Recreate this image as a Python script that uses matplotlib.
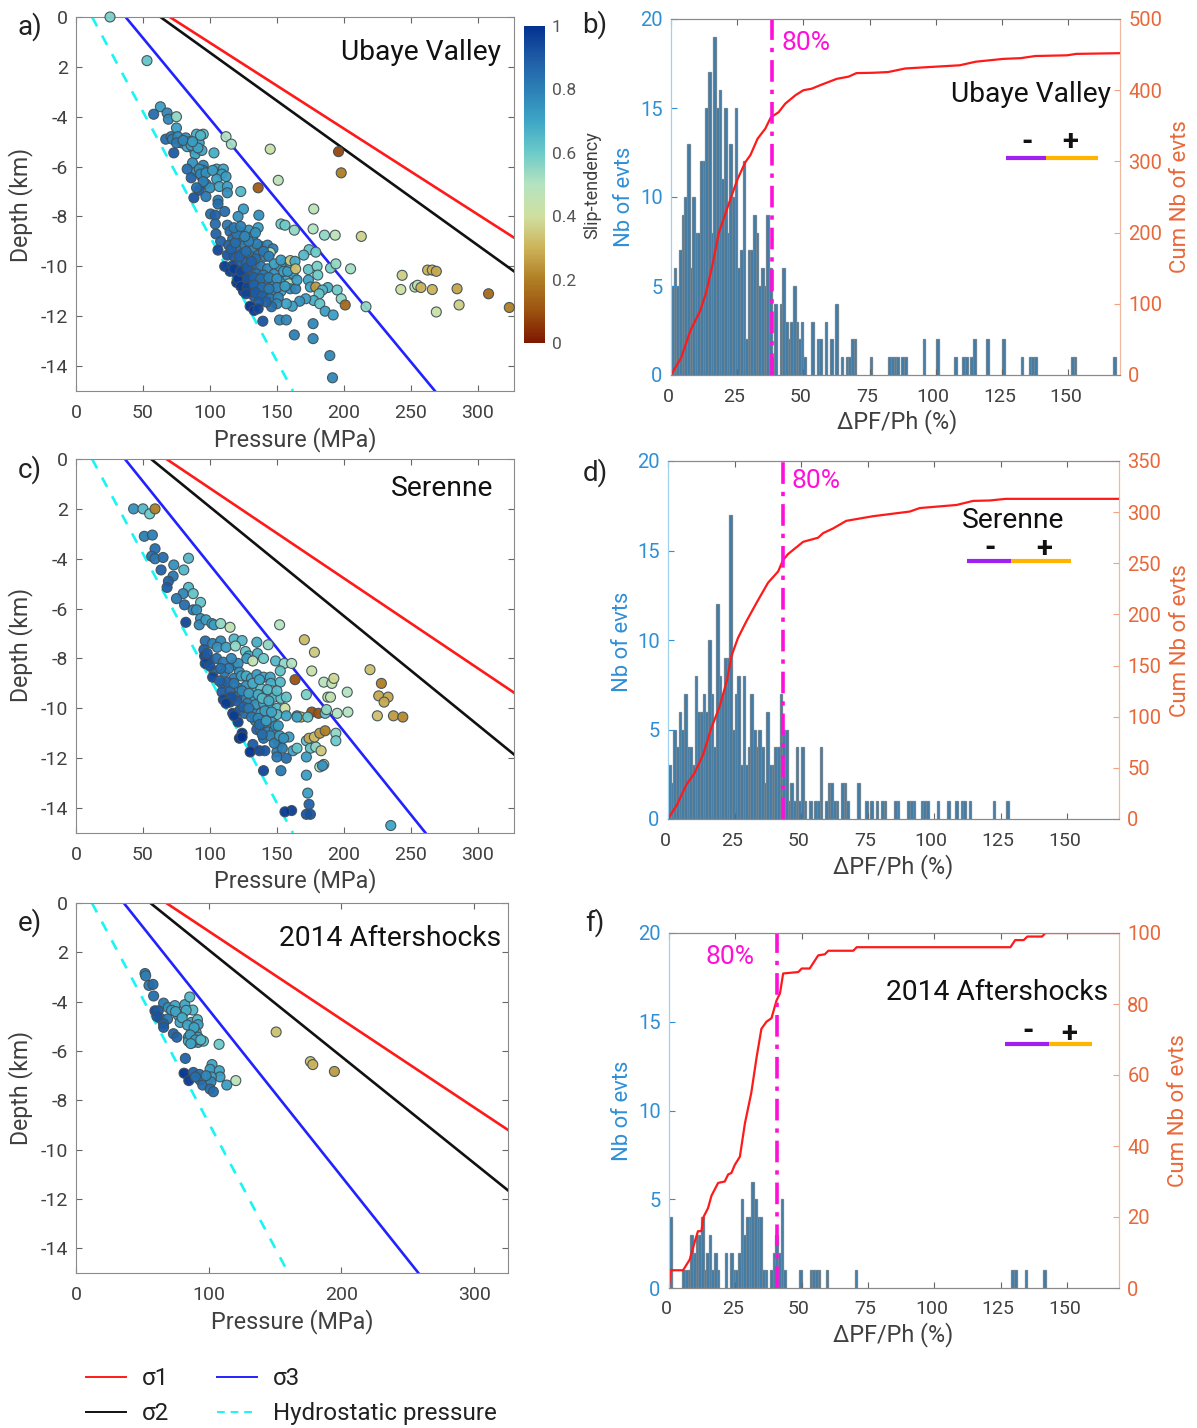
import matplotlib
matplotlib.use("Agg")
import matplotlib.pyplot as plt
from matplotlib.colors import LinearSegmentedColormap
from matplotlib.lines import Line2D
from matplotlib.cm import ScalarMappable
from matplotlib.colors import Normalize
from matplotlib.transforms import ScaledTranslation

plt.rcParams["font.family"] = ["Roboto", "DejaVu Sans"]

W, H = 1197, 1428

# pressure (MPa), depth (km), slip tendency
EVENTS_A = [
    (25.4, 0, .58), (53, -1.75, .62), (63, -3.6, .72), (58, -3.9, .85), (68, -3.85, .78), (69, -4.1, .78),
    (75, -4, .55), (75, -4.45, .72), (67, -4.9, .85), (71, -4.8, .8), (72, -4.9, .8), (76, -4.8, .78),
    (79, -5.05, .8), (82, -4.85, .75), (85, -5, .72), (83, -5.2, .7), (88, -5.3, .72), (90, -4.7, .68),
    (95, -4.7, .62), (92, -5.05, .72), (89, -5.5, .7), (94, -5.35, .7), (73, -5.45, .9), (103, -5.45, .68),
    (75, -5.05, .82), (80, -4.95, .78), (86, -5.15, .72), (91, -5.25, .7), (87, -5.0, .72), (93, -4.75, .66),
    (87, -5.85, .75), (83, -6.1, .85), (95, -5.95, .78), (95, -6.15, .8), (90, -6.2, .75), (86, -6.45, .88),
    (94, -6.4, .8), (105, -6.1, .7), (110, -6.1, .7), (109, -6.3, .72), (105, -6.5, .72), (112, -6.4, .72),
    (97, -6.7, .8), (92, -6.95, .9), (100, -6.85, .75), (107, -6.8, .7), (113, -6.8, .72), (113, -7.05, .75),
    (88, -7.25, .92), (97, -7.2, .82), (106, -7.35, .8), (106, -7.5, .85), (123, -7, .65), (136, -6.85, .12),
    (112, -4.8, .5), (116, -5.1, .52), (145, -5.3, .42), (151, -6.55, .47), (196, -5.4, .08), (198, -6.25, .2),
    (92, -6.1, .76), (93, -6.3, .78), (97, -6.25, .76), (102, -6.15, .72), (95, -6.6, .8), (90, -6.85, .85),
    (125, -7.7, .72), (121, -8, .75), (136.5, -7.95, .75), (177.5, -7.7, .47), (153, -8.3, .6), (156, -8.35, .6),
    (163, -8.55, .55), (177, -8.5, .5), (185.5, -8.75, .55), (193.5, -8.75, .47), (213, -8.8, .37),
    (100.5, -7.9, .85), (111, -7.8, .85), (104, -7.95, .88), (104, -8.3, .85), (113, -8.35, .82), (104.5, -8.7, .88),
    (108, -9, .88), (106, -9.35, .95), (115, -8.6, .85), (120, -8.55, .8), (124, -8.65, .8), (129, -8.55, .75),
    (136, -8.45, .72), (132, -8.8, .75), (117, -8.9, .85), (123, -8.95, .82), (114, -9.15, .88), (120, -9.3, .85),
    (126, -9.15, .8), (132, -9.3, .8), (138, -9.2, .8), (143, -9.15, .78), (147, -9.3, .8), (145, -9.45, .5),
    (113, -9.55, .92), (118, -9.6, .9), (124, -9.5, .85), (130, -9.6, .82), (136, -9.55, .82), (141, -9.6, .8),
    (111, -10, .97), (115, -10.2, .97), (117, -9.97, .95), (122, -9.95, .9), (127, -9.85, .88), (133, -9.9, .85),
    (138, -10, .82), (143, -10.1, .78), (148, -10.3, .75), (152, -10, .72), (156, -9.85, .72), (160, -10.05, .7),
    (120, -10.65, 1.0), (125, -11, .98), (126.5, -10.7, .95), (120, -10.3, .95), (125, -10.4, .92), (130, -10.2, .88),
    (135, -10.3, .85), (140, -10.35, .82), (131, -10.6, .9), (136, -10.7, .88), (142, -10.65, .82), (147, -10.7, .8),
    (153, -10.6, .72), (158, -10.4, .7), (162, -10.3, .72), (130, -11, .92), (136, -10.95, .88), (141, -11.05, .85),
    (147, -11.1, .8), (153, -11, .72), (159, -10.7, .45), (160, -10.9, .75), (164, -10.9, .78), (133, -11.2, .9),
    (118, -10.1, .97), (121, -10.5, .98), (123, -10.2, .95), (128, -10.05, .9), (128, -10.5, .92), (133, -10.45, .88),
    (138, -10.5, .85), (144, -10.45, .8), (150, -10.5, .75), (155, -10.2, .72), (150, -10.85, .78), (156, -10.8, .72),
    (123, -10.8, .98), (128, -10.85, .95), (133, -10.75, .88), (139, -10.85, .85), (144, -10.9, .82), (127, -11.1, .95),
    (134, -11.05, .9), (139, -11.2, .88), (145, -11.3, .82), (151, -11.25, .78), (116, -9.3, .88), (119, -9.05, .85),
    (122, -9.6, .88), (127, -9.4, .85), (135, -9.1, .8), (129, -9.0, .8), (140, -9.4, .82), (144, -9.6, .8),
    (148, -9.9, .72), (153, -9.75, .72), (158, -10.2, .72), (134, -9.7, .85), (131, -9.8, .88), (120, -8.7, .82),
    (126, -8.8, .78), (118, -8.45, .82), (123, -8.4, .8), (134, -8.65, .75), (160, -9.85, .68), (165, -10.55, .72),
    (160, -9.77, .35), (174, -9.33, .62), (179, -9.43, .6), (170, -9.55, .65), (163.5, -9.8, .68), (164, -10.1, .33),
    (173.5, -10.13, .62), (180, -10, .58), (180.5, -10.35, .6), (190, -10.07, .58), (194, -9.9, .55), (205, -10.1, .52),
    (173.5, -10.55, .7), (175, -10.83, .7), (179, -10.83, .25), (188, -10.85, .68), (184, -10.95, .65), (181.5, -11.1, .62),
    (195, -10.95, .6), (198, -11.3, .55), (201, -11.55, .15), (216.5, -11.62, .55), (177.5, -11.37, .68), (182, -11.5, .62),
    (171.5, -11.3, .72), (167, -11.4, .75), (161.5, -11.6, .72), (186, -11.8, .72), (192, -11.95, .72), (157, -11.5, .7),
    (150, -11.5, .78), (146, -11.62, .85), (142, -11.43, .88), (136.5, -11.43, .9), (130, -11.6, 1), (133, -11.77, .98),
    (136, -11.7, .95), (139.5, -12.2, .92), (152, -12.15, .78), (157, -12.15, .78), (177, -12.3, .78), (163, -12.75, .8),
    (177, -12.9, .78), (189.5, -13.58, .78), (191.5, -14.47, .78),
    (243.5, -10.36, .36), (242.5, -10.93, .4), (253, -10.83, .42), (255, -10.76, .45), (257.5, -10.85, .3), (262.5, -10.15, .3),
    (266, -10.15, .3), (269, -10.2, .28), (266, -10.93, .3), (269, -11.83, .42), (284.5, -10.9, .27), (286, -11.55, .36),
    (308, -11.1, .15), (323.5, -11.65, .2),
]

EVENTS_C = [
    (43, -2, .75), (50, -2, .65), (55, -2.2, .6), (59, -2, .2), (51, -3.1, .8), (57, -3.05, .8), (59, -3.6, .85),
    (56.5, -3.9, .85), (59, -4, .82), (65, -3.95, .85), (84, -3.98, .65), (73, -4.25, .75), (80.5, -4.45, .65),
    (63.5, -4.45, .88), (72.5, -4.7, .82), (69, -4.9, .88), (68, -5.15, .9), (84, -5.15, .65), (80, -5.4, .78),
    (87.5, -5.4, .62), (75, -5.6, .82), (81, -5.85, .85), (93, -5.75, .62), (87.5, -6.05, .8), (90, -6.05, .75),
    (82, -6.55, .95), (93, -6.4, .75), (92, -6.65, .78), (97, -6.45, .72), (101.5, -6.6, .72), (103, -6.65, .72),
    (108, -6.6, .55), (115, -6.75, .45), (152, -6.65, .5), (96.5, -7.3, .85), (102, -7.4, .8), (108, -7.3, .78),
    (105.5, -7.55, .75), (112, -7.55, .72), (118, -7.22, .65), (124, -7.28, .65), (119, -7.5, .55), (135, -7.35, .68),
    (143.5, -7.45, .55), (170.5, -7.25, .32), (178, -7.75, .35), (126.5, -7.72, .62), (129, -7.9, .68), (127.5, -8, .72),
    (135.5, -7.8, .68), (140, -8, .6), (132, -8.1, .45), (149, -8.1, .65), (155.5, -8.2, .55), (161, -8.2, .5),
    (152.5, -8.5, .62), (176, -8.5, .42), (95.5, -7.65, .9), (96, -7.9, .95), (99.5, -8.05, .95), (96.5, -8.2, .95),
    (105, -8, .85), (110, -8.15, .82), (118, -8.25, .78), (121, -8.2, .75), (103, -8.5, .88), (102, -8.75, .95),
    (111, -8.55, .82), (122, -8.55, .75), (109, -9, .88), (118, -8.8, .8), (123.5, -8.7, .72), (127, -8.7, .68),
    (131, -8.8, .7), (135, -8.65, .72), (140, -8.75, .7), (145, -8.75, .7), (145.5, -9, .68), (152.5, -8.95, .65),
    (163.5, -8.85, .1), (185, -8.95, .48), (191, -9, .45), (192.5, -8.8, .38), (202.5, -9.35, .5), (219.5, -8.45, .33),
    (228, -9, .2), (109, -9.35, .9), (115, -9.3, .88), (122, -9.2, .8), (127, -9.1, .75), (133, -9.25, .68),
    (138, -9.2, .62), (146, -9.3, .4), (148, -9.55, .65), (153, -9.6, .62), (157, -9.55, .62), (140, -9.45, .68),
    (132, -9.6, .72), (126, -9.55, .8), (120, -9.55, .85), (110, -9.65, .95), (115, -9.75, .95), (120, -9.7, .9),
    (128, -9.8, .8), (134, -9.85, .75), (140, -9.8, .7), (145, -9.95, .68), (150, -10, .65), (156, -10, .4),
    (117, -10.2, .97), (122, -10.1, .92), (126, -10.2, .85), (132, -10.2, .78), (138, -10.2, .72), (143, -10.25, .7),
    (150, -10.25, .65), (157, -10.3, .7), (165, -10.3, .72), (121, -10.55, .97), (134, -10.5, .82), (140, -10.6, .75),
    (146, -10.55, .72), (135, -10.85, .88), (138, -10.9, .82), (143, -10.95, .8), (148, -10.9, .75), (124, -11, 1),
    (122, -11.2, 1), (132, -11.45, .9), (140, -11.2, .85), (150, -11.2, .8), (152, -11.4, .78), (159, -11.15, .72),
    (130, -11.75, 1), (137, -11.7, .95), (141, -11.7, .92), (150, -11.75, .8), (154, -11.6, .8), (150, -11.95, .82),
    (157, -12, .85), (162, -11.7, .7), (165, -11.6, .62), (172, -11.3, .62), (175, -11.6, .62), (172, -11.95, .72),
    (179, -11.55, .55), (183, -11.7, .35), (174, -11.2, .28), (178, -11.15, .32), (182, -11, .25), (186, -10.9, .2),
    (194, -11, .55), (194, -11.3, .6), (140, -12.5, .95), (153, -12.5, .82), (172, -12.68, .72), (173, -13.4, .72),
    (174, -13.85, .88), (172, -14.25, .92), (175, -14.25, .92), (161, -14.1, .97), (156, -14.15, .98), (235, -14.7, .7),
    (182, -12.35, .5), (185, -12.25, .45), (184, -12.3, .75), (176, -10.15, .1), (181, -10.2, .1), (186, -10.2, .62),
    (168, -10.35, .3), (165, -10.35, .7), (173, -10.35, .62), (187, -10.05, .55), (195, -10.2, .5), (203, -10.15, .5),
    (188, -9.55, .45), (190, -9.55, .45), (172, -9.45, .58), (226, -9.5, .28), (233, -9.55, .28), (230, -9.75, .28),
    (225, -10.3, .33), (237, -10.3, .25), (244, -10.35, .22),
    (113, -8.95, .88), (116, -9.55, .92), (112, -9.8, .97), (118, -10.3, .97), (125, -9.95, .88), (129, -10.0, .82),
    (131, -10.35, .82), (136, -10.4, .78), (141, -10.1, .72), (146, -10.15, .7), (137, -10.65, .85), (142, -10.5, .72),
    (149, -10.7, .75), (145, -11.1, .78), (148, -11.4, .8), (152, -11.1, .72), (155, -11.2, .75), (139, -11.05, .85),
    (124, -11.15, 1), (124, -9.3, .78), (129, -9.4, .72), (136, -9.45, .68), (143, -9.25, .65), (150, -9.3, .65),
    (132, -9.0, .68), (139, -9.6, .65), (144, -9.7, .68), (137, -8.85, .7), (114, -8.4, .8), (116, -8.0, .78),
    (100, -8.3, .92), (108, -8.4, .85), (118, -9.0, .82), (98, -7.8, .9), (107, -8.9, .88), (151, -10.7, .72),
]

EVENTS_E = [
    (52, -2.86, .82), (52.5, -2.95, .8), (55, -3.34, .82), (58, -3.3, .85), (58.5, -3.77, .85), (66, -4.06, .82),
    (69.5, -4.24, .75), (74.5, -4.16, .7), (72, -4.35, .72), (82, -4.12, .7), (85.7, -3.81, .65), (88, -4.34, .65),
    (80.5, -4.48, .65), (77, -4.55, .7), (59.5, -4.37, .95), (62, -4.37, .9), (63.3, -4.67, .85), (69, -4.7, .82),
    (66, -4.9, .88), (66, -5.04, .9), (78.4, -4.84, .7), (87, -4.84, .7), (91.5, -4.73, .65), (92, -4.93, .72),
    (73.4, -5.3, .88), (76, -5.44, .88), (87, -5.24, .7), (90.5, -5.24, .72), (84.7, -5.44, .72), (88, -5.44, .7),
    (92, -5.44, .72), (84.7, -5.6, .68), (88.5, -5.65, .7), (92, -5.65, .72), (96, -5.6, .62), (107.8, -5.73, .6),
    (82.4, -6.3, .88), (81.4, -6.9, 1), (85, -7.2, .98), (88.4, -6.87, .88), (93, -6.95, .85), (102.5, -6.55, .7),
    (101, -6.74, .72), (108, -6.8, .7), (108.5, -7.05, .72), (102, -7.05, .72), (93.5, -7.18, .82), (95.5, -7.38, .85),
    (101.7, -7.25, .78), (101, -7.54, .85), (103.5, -7.65, .85), (113.6, -7.38, .72), (120.4, -7.2, .47),
    (150.8, -5.23, .33), (176.6, -6.43, .33), (178.4, -6.55, .3), (194.7, -6.83, .25),
    (83, -4.35, .68), (75, -4.4, .7), (80, -4.65, .68), (84, -4.95, .7), (89, -5.05, .7), (86, -5.35, .72), (90, -5.55, .72),
    (94, -5.55, .65), (86.5, -5.7, .7), (61, -4.6, .92), (98, -7.0, .78), (90, -7.05, .85),
]

# stress lines: pressure and depth at the two ends
SIGMA1_A = ([70, 327], [0, -8.85])
SIGMA2_A = ([63, 327], [0, -10.2])
SIGMA3_A = ([37, 268], [0, -15])
HYDRO_A = ([12, 162], [0, -15])
SIGMA1_C = ([67.5, 327], [0, -9.37])
SIGMA2_C = ([56, 327], [0, -11.85])
SIGMA3_C = ([36.5, 261], [0, -15])
HYDRO_C = ([12, 162], [0, -15])
SIGMA1_E = ([68, 325.5], [0, -9.2])
SIGMA2_E = ([56, 325.5], [0, -11.65])
SIGMA3_E = ([36, 258], [0, -15])
HYDRO_E = ([12, 160], [0, -15])

# histograms: left edge of the 1 % bin and its count
BINS_B = list(range(0, 39)) + [39, 41, 42, 43, 44, 45, 46, 47, 48, 49, 50, 53, 55, 56, 58, 60, 62, 64, 66, 67, 68, 69,
                               75, 82, 83, 84, 85, 87, 88, 95, 100, 107, 110, 111, 113, 114, 119, 125, 132, 135, 136,
                               137, 151, 152, 167]
COUNTS_B = [5, 6, 5, 7, 9, 10, 13, 6, 10, 8, 8, 12, 12, 15, 17, 8, 19, 15, 16, 11, 15, 8, 13, 10, 15, 6, 7, 12, 2, 7,
            7, 9, 8, 5, 6, 5, 9, 6, 1,
            4, 4, 6, 3, 2, 3, 5, 3, 2, 3, 1,
            3, 2, 2, 3, 2, 4, 1, 1, 1, 2, 2,
            1, 1, 1, 1, 1, 1, 1,
            2, 2, 1, 1, 1, 1, 2, 2, 2, 1, 1, 1, 1, 1, 1, 1]

BINS_D = list(range(0, 52)) + [53, 55, 56, 57, 59, 60, 61, 62, 63, 65, 66, 67, 71, 74, 76, 78, 80, 81, 85, 86, 90, 91,
                               92, 95, 96, 97, 101, 105, 108, 110, 111, 113, 122, 127]
COUNTS_D = [3, 2, 5, 4, 6, 5, 7, 4, 4, 3, 8, 6, 6, 7, 6, 10, 7, 4, 12, 8, 7, 9, 9, 17, 5, 7, 8, 3, 8, 3, 4, 7, 5, 4, 5,
            4, 2, 6, 3, 3, 4, 4, 7, 5, 5, 1, 2, 1, 4, 1, 4, 1, 1, 1, 1, 4, 1, 2, 2, 1, 1, 2, 2, 1, 2, 1, 1, 1, 1, 1, 1,
            1, 1, 1, 1, 1, 1, 1, 1, 1, 1, 1, 1, 1, 1, 1]

BINS_F = [0, 5, 6, 7, 8, 9, 10, 11, 12, 13, 14, 15, 16, 17, 18, 21, 23, 24, 25, 26, 27, 28, 29, 30, 31, 32, 33, 34, 35,
          36, 38, 39, 40, 41, 42, 43, 49, 53, 54, 55, 56, 59, 70, 129, 130, 134, 141]
COUNTS_F = [4, 1, 1, 1, 3, 2, 3, 3, 4, 1, 2, 3, 1, 2, 1, 2, 2, 1, 1, 2, 5, 3, 4, 4, 6, 5, 4, 4, 1, 1, 1, 2, 3, 2, 5, 1,
            1, 1, 1, 1, 1, 1, 1, 1, 1, 1, 1]

# cumulative curves
CUM_X_B = [0, 3.8, 7.3, 11, 13.2, 15.5, 18, 21.4, 25, 28, 30, 32.7, 35.6, 37.7, 40.6, 43.1, 47, 50, 53, 57, 62.6, 67,
           70, 76.5, 82, 88.4, 99.7, 109, 115, 125.5, 132, 137.5, 149.5, 153, 169.5]
CUM_Y_B = [0, 24, 62, 90, 115, 152, 199, 236, 274, 298.5, 309, 332, 346, 362, 369, 381, 393, 400, 402, 408, 416, 419,
           424, 424.5, 425.5, 430.5, 433, 435, 440, 444, 445, 448, 449, 451, 452]
CUM_X_D = [0, 3.4, 6.9, 10, 13.2, 16.3, 19.4, 22.2, 23.8, 26.3, 29.4, 33.2, 37.6, 41.4, 43.2, 45.1, 50.8, 56.4, 58.3,
           62, 67, 77, 90.9, 94.6, 108.4, 114.7, 120.9, 127, 169.5]
CUM_Y_D = [0, 14, 33.5, 45, 63, 89, 110, 136, 159, 177, 193, 211, 231, 242, 253, 259, 271, 275, 279.5, 284, 291.5, 296,
           300.6, 304, 307, 311, 311.4, 313, 313]
CUM_X_F = [0, 0.5, 5.3, 7.8, 9.7, 10.9, 12.2, 13, 14.7, 16, 18.5, 21, 22.3, 23.5, 24.8, 26.7, 28.6, 31, 33, 34.8, 36.7,
           38.6, 40.5, 41.8, 43, 48.7, 50, 53, 56.2, 58.7, 60, 69.4, 70.7, 128.6, 130.4, 133.6, 135, 140.5, 141.8, 169.5]
CUM_Y_F = [0, 5, 5, 8, 13, 16, 16, 20, 22.5, 26, 29.6, 30, 32, 32.4, 34.7, 37, 46.4, 55, 65, 73, 75, 76, 81, 83, 88.6,
           89, 90, 90, 93.7, 94, 95, 95, 96, 96, 98, 98, 99, 99, 100, 100]

P80_B = 38.1
P80_D = 43.2
P80_F = 40.6

ROMA_COLORS = ["#7e1700", "#9c5210", "#b07f24", "#cdb35a", "#cfe0a0", "#b5e3c0", "#6ccbc8", "#3ea6c6", "#2c80b6",
               "#1e5ca6", "#03318f"]
roma = LinearSegmentedColormap.from_list("roma_like", ROMA_COLORS)

GRAY = "#404040"
SPINE = "#8a8a8a"
BLUE = "#2f8fd6"
ORANGE = "#e8683a"
MAGENTA = "#ff10d8"

fig = plt.figure(figsize=(W / 100, H / 100), dpi=100)


def box(left, top, right, bottom):
    return [left / W, 1 - bottom / H, (right - left) / W, (bottom - top) / H]


def text_px(x, y, s, **kw):
    kw.setdefault("ha", "center")
    kw.setdefault("va", "center")
    fig.text(x / W, 1 - y / H, s, **kw)


def line_px(x0, x1, y, color):
    fig.add_artist(Line2D([x0 / W, x1 / W], [1 - y / H, 1 - y / H], color=color, lw=3, solid_capstyle="butt", zorder=5))


def depth_panel(rect, events, lines, xmax, xticks):
    ax = fig.add_axes(box(*rect))
    s1, s2, s3, hy = lines
    ax.plot(s1[0], s1[1], color="#ff1a1a", lw=1.9)
    ax.plot(s2[0], s2[1], color="#111111", lw=1.9)
    ax.plot(s3[0], s3[1], color="#2222ff", lw=1.9)
    ax.plot(hy[0], hy[1], color="#19f5f5", lw=1.9, dashes=(4, 4))
    p = [e[0] for e in events]
    d = [e[1] for e in events]
    c = [e[2] for e in events]
    ax.scatter(p, d, c=c, cmap=roma, vmin=0, vmax=1, s=52, edgecolors="#3f5058", linewidths=0.8,
               alpha=0.95, zorder=3, clip_on=False)
    ax.set_xlim(0, xmax)
    ax.set_ylim(-15, 0)
    ax.set_xticks(xticks)
    ax.set_yticks(list(range(0, -16, -2)))
    # the -2 tick has no minus sign in the figure
    ax.set_yticklabels(["0", "2", "-4", "-6", "-8", "-10", "-12", "-14"])
    ax.tick_params(direction="in", top=True, right=True, length=4, color="#666666", labelcolor=GRAY,
                   labelsize=14, pad=6)
    ax.tick_params(axis="x", pad=9)
    for sp in ax.spines.values():
        sp.set_color(SPINE)
    return ax


def hist_panel(rect, bins, counts, cum_x, cum_y, p80, ymax_r, rticks):
    ax = fig.add_axes(box(*rect))
    centers = [b + 0.5 for b in bins]
    ax.bar(centers, counts, width=1.0, color="#3c7cab", edgecolor="#6d8494", linewidth=0.9)
    ax.set_xlim(0, 169.5)
    ax.set_ylim(0, 20)
    ax.set_xticks([0, 25, 50, 75, 100, 125, 150])
    ax.set_yticks([0, 5, 10, 15, 20])
    ax.tick_params(axis="x", direction="in", top=True, length=4, color="#666666", labelcolor=GRAY,
                   labelsize=14, pad=9)
    ax.tick_params(axis="y", direction="in", length=4, color=BLUE, labelcolor=BLUE, labelsize=14.5, pad=6)
    for lab in ax.get_xticklabels():
        lab.set_transform(lab.get_transform() + ScaledTranslation(-2 / 72, 0, fig.dpi_scale_trans))

    ax2 = ax.twinx()
    ax2.plot(cum_x, cum_y, color="#ff1a1a", lw=1.6)
    ax2.axvline(p80, color=MAGENTA, lw=2.6, dashes=(6, 2.2, 1.2, 2.2))
    ax2.set_ylim(0, ymax_r)
    ax2.set_yticks(rticks)
    ax2.tick_params(axis="y", direction="in", length=4, color="#f0a284", labelcolor=ORANGE, labelsize=14.5, pad=6)
    for a in (ax, ax2):
        a.spines["top"].set_color(SPINE)
        a.spines["bottom"].set_color(SPINE)
        a.spines["left"].set_color("#9fd0ee")
        a.spines["right"].set_color("#f0b8a0")
    return ax


depth_panel((76, 17, 514, 391), EVENTS_A, (SIGMA1_A, SIGMA2_A, SIGMA3_A, HYDRO_A), 327, range(0, 301, 50))
depth_panel((76, 459, 514, 833), EVENTS_C, (SIGMA1_C, SIGMA2_C, SIGMA3_C, HYDRO_C), 327, range(0, 301, 50))
depth_panel((76, 903, 508, 1273), EVENTS_E, (SIGMA1_E, SIGMA2_E, SIGMA3_E, HYDRO_E), 325.5, range(0, 301, 100))

hist_panel((671, 19, 1120, 375), BINS_B, COUNTS_B, CUM_X_B, CUM_Y_B, P80_B, 500, range(0, 501, 100))
hist_panel((668, 461, 1119, 819), BINS_D, COUNTS_D, CUM_X_D, CUM_Y_D, P80_D, 350, range(0, 351, 50))
hist_panel((669, 933, 1119, 1288), BINS_F, COUNTS_F, CUM_X_F, CUM_Y_F, P80_F, 100, range(0, 101, 20))

# colorbar
cax = fig.add_axes(box(524, 26, 545, 343))
cb = fig.colorbar(ScalarMappable(norm=Normalize(0, 1), cmap=roma), cax=cax)
cb.set_ticks([0, 0.2, 0.4, 0.6, 0.8, 1])
cb.set_ticklabels(["0", "0.2", "0.4", "0.6", "0.8", "1"])
cb.ax.tick_params(length=0, labelsize=12.5, labelcolor="#555555", pad=5)
cb.outline.set_visible(False)
text_px(592, 185, "Slip-tendency", rotation=90, fontsize=13, color=GRAY)

# axis labels
for x, y in [(295, 440), (295, 881), (292, 1322)]:
    text_px(x, y, "Pressure (MPa)", fontsize=16.8, color=GRAY)
for y in [205, 645, 1088]:
    text_px(21, y, "Depth (km)", rotation=90, fontsize=16.6, color=GRAY)
for x, y in [(897, 422), (893, 867), (893, 1335)]:
    text_px(x, y, "ΔPF/Ph (%)", fontsize=16.8, color=GRAY)
for x, y in [(624, 197), (622, 642), (623, 1111)]:
    text_px(x, y, "Nb of evts", rotation=90, fontsize=15.8, color=BLUE)
for x, y in [(1180, 197), (1180, 641), (1178, 1111)]:
    text_px(x, y, "Cum Nb of evts", rotation=90, fontsize=16, color=ORANGE)

# panel letters
for x, y, s in [(30, 27, "a)"), (595, 25, "b)"), (30, 470, "c)"), (595, 473, "d)"), (30, 923, "e)"), (595, 923, "f)")]:
    text_px(x, y, s, fontsize=20, color="#222222")

# region names
for x, y, s in [(421, 52, "Ubaye Valley"), (442, 488, "Serenne"), (390, 938, "2014 Aftershocks"),
                (1031, 94, "Ubaye Valley"), (1013, 520, "Serenne"), (997, 993, "2014 Aftershocks")]:
    text_px(x, y, s, fontsize=20.3, color="#111111")

# 80 % labels
for x, y in [(806, 43), (816, 481), (730, 957)]:
    text_px(x, y, "80%", fontsize=19, color=MAGENTA)

# minus / plus keys
for x0, x1, x2, y in [(1006, 1046, 1098, 158), (967, 1011, 1071, 561), (1005, 1049, 1092, 1044)]:
    line_px(x0, x1, y, "#a020f0")
    line_px(x1, x2, y, "#ffb400")
for x, y, s in [(1027, 142, "-"), (1070, 142, "+"), (990, 548, "-"), (1044, 549, "+"), (1028, 1031, "-"), (1069, 1034, "+")]:
    text_px(x, y, s, fontsize=21, fontweight="bold", color="#111111")

# legend
handles = [
    Line2D([], [], color="#ff1a1a", lw=1.4),
    Line2D([], [], color="#111111", lw=1.4),
    Line2D([], [], color="#2222ff", lw=1.4),
    Line2D([], [], color="#19f5f5", lw=1.4, dashes=(4, 3)),
]
fig.legend(handles, ["σ1", "σ2", "σ3", "Hydrostatic pressure"], ncol=2, frameon=False, fontsize=17.4,
           labelcolor="#222222", handlelength=1.65, handletextpad=0.66, columnspacing=2.0, labelspacing=0.5,
           loc="lower left", bbox_to_anchor=(81 / W, -2 / H), borderaxespad=0, borderpad=0.2)

fig.savefig("out.png", dpi=100)
plt.close(fig)
